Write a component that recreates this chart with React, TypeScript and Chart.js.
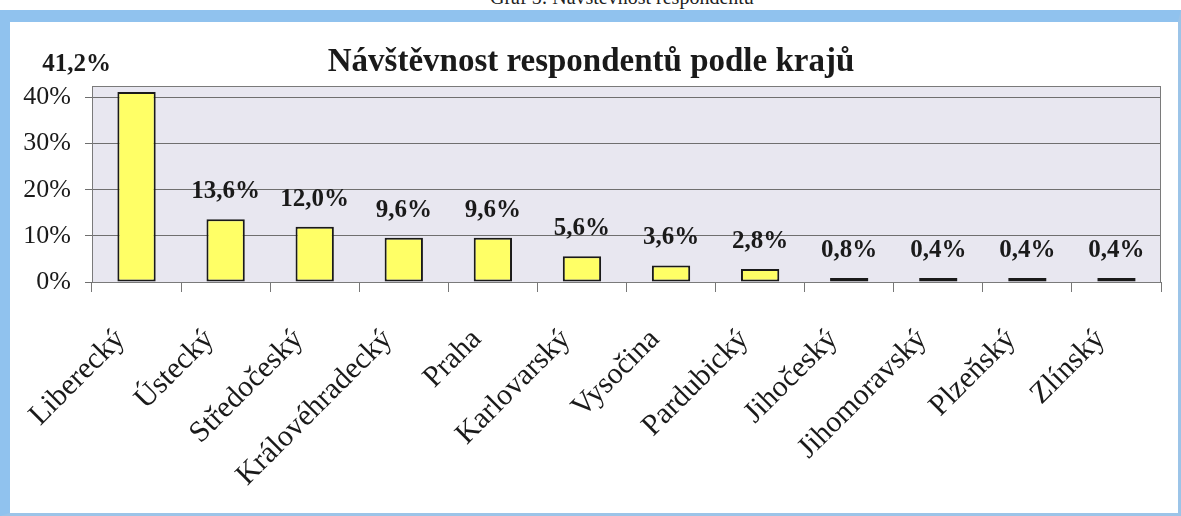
import React, { useEffect, useRef } from "react";
import { Chart, registerables } from "chart.js";

Chart.register(...registerables);

const categories = [
  "Liberecký",
  "Ústecký",
  "Středočeský",
  "Královéhradecký",
  "Praha",
  "Karlovarský",
  "Vysočina",
  "Pardubický",
  "Jihočeský",
  "Jihomoravský",
  "Plzeňský",
  "Zlínský",
];
const shares = [41.2, 13.6, 12.0, 9.6, 9.6, 5.6, 3.6, 2.8, 0.8, 0.4, 0.4, 0.4];
const yTicks = [0, 10, 20, 30, 40];
const chartTitle = "Návštěvnost respondentů podle krajů";
const caption = "Graf 5: Návštěvnost respondentů";

const SERIF = "'Liberation Serif', 'Times New Roman', serif";
const FIRST_LABEL_SHIFT = -60;

const plotBg = {
  id: "plotBg",
  beforeDraw(chart: any) {
    const { ctx, chartArea: a } = chart;
    ctx.save();
    ctx.fillStyle = "#e8e7f0";
    ctx.fillRect(a.left, a.top, a.right - a.left, a.bottom - a.top);
    ctx.restore();
  },
  afterDatasetsDraw(chart: any) {
    const { ctx, chartArea: a } = chart;
    ctx.save();
    ctx.strokeStyle = "#7a7a7a";
    ctx.lineWidth = 1;
    ctx.strokeRect(a.left + 0.5, a.top + 0.5, a.right - a.left - 1, a.bottom - a.top);
    ctx.restore();
  },
};

const titleText = {
  id: "titleText",
  afterDraw(chart: any) {
    const { ctx } = chart;
    ctx.save();
    ctx.font = `bold 33px ${SERIF}`;
    ctx.fillStyle = "#1a1a1a";
    ctx.textAlign = "center";
    ctx.textBaseline = "middle";
    ctx.fillText(chartTitle, chart.width / 2 - 3, 40);
    ctx.restore();
  },
};

const valueLabels = {
  id: "valueLabels",
  afterDatasetsDraw(chart: any) {
    const { ctx } = chart;
    const meta = chart.getDatasetMeta(0);
    const data = chart.data.datasets[0].data as number[];
    ctx.save();
    ctx.font = `bold 25px ${SERIF}`;
    ctx.fillStyle = "#1a1a1a";
    ctx.textAlign = "center";
    ctx.textBaseline = "alphabetic";
    meta.data.forEach((bar: any, i: number) => {
      const txt = data[i].toFixed(1).replace(".", ",") + "%";
      const dx = i === 0 ? FIRST_LABEL_SHIFT : 0;
      ctx.fillText(txt, bar.x + dx, bar.y - 21);
    });
    ctx.restore();
  },
};

export default function App() {
  const ref = useRef<HTMLCanvasElement | null>(null);

  useEffect(() => {
    if (!ref.current) return;
    const chart = new Chart(ref.current, {
      type: "bar",
      data: {
        labels: categories,
        datasets: [
          {
            data: shares,
            backgroundColor: "#ffff66",
            borderColor: "#1a1a1a",
            borderWidth: 2,
            borderSkipped: false,
            minBarLength: 4,
            barPercentage: 0.43,
            categoryPercentage: 1,
          },
        ],
      },
      options: {
        animation: false,
        responsive: false,
        devicePixelRatio: 1,
        layout: { padding: { top: 64, right: 17, left: 0, bottom: 0 } },
        plugins: {
          legend: { display: false },
          tooltip: { enabled: false },
          title: { display: false },
        },
        scales: {
          x: {
            type: "category",
            grid: {
              offset: true,
              drawOnChartArea: false,
              drawTicks: true,
              tickLength: 10,
              color: "#777",
              lineWidth: 1,
            },
            border: { display: true, color: "#777" },
            ticks: {
              autoSkip: false,
              minRotation: 45,
              maxRotation: 45,
              padding: 30,
              labelOffset: -16,
              color: "#1a1a1a",
              font: { family: SERIF, size: 30 },
            },
            afterFit: (s: any) => {
              s.height = 231;
            },
          },
          y: {
            min: 0,
            max: 42.5,
            ticks: {
              stepSize: 10,
              padding: 14,
              color: "#1a1a1a",
              font: { family: SERIF, size: 26 },
              callback: (v: any) => v + "%",
            },
            afterBuildTicks: (s: any) => {
              s.ticks = yTicks.map((v) => ({ value: v }));
            },
            grid: { color: "#6f6f6f", tickLength: 7, drawTicks: true, lineWidth: 1 },
            border: { display: true, color: "#777" },
            afterFit: (s: any) => {
              s.width = 82;
            },
          },
        },
      },
      plugins: [plotBg, valueLabels, titleText],
    });
    return () => chart.destroy();
  }, []);

  return (
    <div
      style={{
        position: "fixed",
        left: 0,
        top: 0,
        width: 1181,
        height: 516,
        overflow: "hidden",
        background: "#ffffff",
      }}
    >
      <div
        style={{
          position: "absolute",
          left: 490,
          top: -14,
          whiteSpace: "nowrap",
          fontFamily: SERIF,
          fontSize: 20,
          color: "#222",
        }}
      >
        {caption}
      </div>
      <div
        style={{
          position: "absolute",
          left: 0,
          top: 10,
          width: 1181,
          height: 506,
          boxSizing: "border-box",
          borderLeft: "10px solid #90c2ee",
          borderTop: "12px solid #90c2ee",
          borderRight: "3px solid #9cc4e8",
          borderBottom: "3px solid #9cc4e8",
          background: "#ffffff",
        }}
      />
      <canvas
        ref={ref}
        width={1168}
        height={491}
        style={{ position: "absolute", left: 10, top: 22, width: 1168, height: 491 }}
      />
    </div>
  );
}
